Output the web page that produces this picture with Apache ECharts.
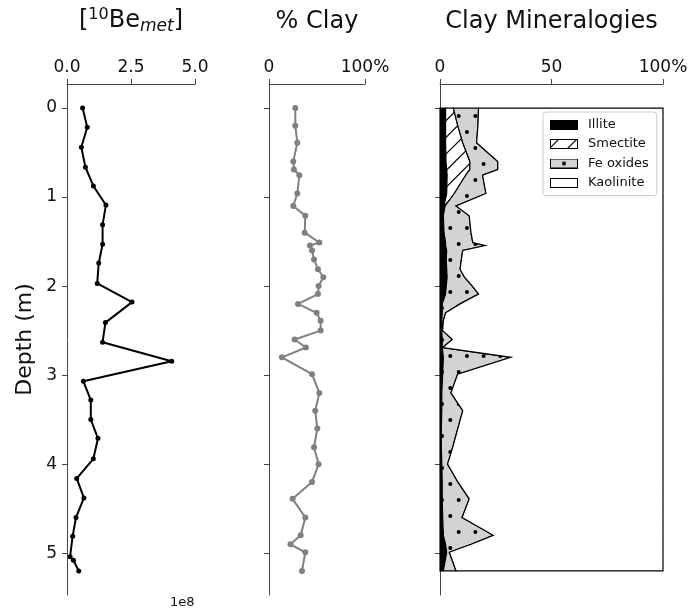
<!DOCTYPE html>
<html>
<head>
<meta charset="utf-8">
<script src="https://cdn.jsdelivr.net/npm/echarts@6/dist/echarts.min.js"></script>
<style>
  html, body { margin: 0; padding: 0; background: #fff; }
  #chart { width: 691px; height: 613px; }
</style>
</head>
<body>
<div id="chart"></div>
<script>
// Meteoric 10Be concentration profile (values in units of 1e8 atoms/g)
const beDepth = [0.00, 0.215, 0.44, 0.665, 0.875, 1.09, 1.31, 1.53, 1.74, 1.97, 2.18, 2.41, 2.63,
                 2.845, 3.07, 3.28, 3.50, 3.71, 3.94, 4.16, 4.38, 4.60, 4.81, 5.04, 5.08, 5.20];
const beConc = [0.61, 0.79, 0.56, 0.72, 1.03, 1.52, 1.39, 1.39, 1.24, 1.18, 2.54, 1.50, 1.39,
                4.09, 0.64, 0.93, 0.93, 1.21, 1.03, 0.38, 0.66, 0.35, 0.22, 0.12, 0.25, 0.46];

// Clay content (%) and the sampling depths shared with the mineralogy
const clayDepth = [0.00, 0.20, 0.39, 0.60, 0.69, 0.755, 0.96, 1.10, 1.21, 1.40, 1.51, 1.545, 1.60,
                   1.70, 1.81, 1.90, 2.00, 2.09, 2.20, 2.30, 2.39, 2.50, 2.60, 2.69, 2.80, 2.99,
                   3.20, 3.40, 3.60, 3.81, 4.00, 4.20, 4.39, 4.60, 4.80, 4.90, 4.99, 5.20];
const clayPct = [27.4, 27.4, 29.5, 25.3, 26.0, 31.6, 29.5, 25.3, 37.8, 37.2, 52.4, 42.7, 44.8,
                 46.9, 51.0, 56.6, 51.7, 51.0, 30.2, 49.6, 53.8, 53.8, 26.7, 38.4, 13.5, 44.8,
                 52.4, 48.2, 50.3, 46.9, 51.7, 44.8, 24.6, 37.8, 33.0, 22.4, 37.8, 34.4];

// Clay mineral fractions (%) at each clay sampling depth
const illite = [2.5, 2.5, 2.5, 2.7, 3.0, 3.2, 3.0, 1.8, 1.5, 1.8, 2.5, 2.5, 3.0,
                2.8, 3.0, 3.2, 2.8, 2.5, 1.0, 1.0, 0.8, 0.8, 1.0, 1.0, 1.5, 1.2,
                0.8, 0.8, 0.6, 0.6, 0.8, 1.0, 1.0, 1.2, 1.5, 2.5, 3.0, 1.5];
const smectite = [3.5, 5.5, 7.7, 10.7, 10.4, 8.3, 3.4, 0.5, 0, 0, 0, 0, 0,
                  0, 0, 0, 0, 0, 0, 0, 0, 0, 0, 0, 0, 0,
                  0, 0, 0, 0, 0, 0, 0, 0, 0, 0, 0, 0];
const feOxides = [11.3, 9.0, 6.2, 12.5, 12.5, 7.6, 14.2, 4.9, 11.6, 12.1, 12.2, 17.8, 7.2,
                  6.8, 6.0, 7.8, 11.7, 14.8, 8.0, 1.5, 0.7, 0.4, 4.5, 0.2, 30.3, 6.7,
                  4.1, 9.4, 7.4, 5.1, 2.6, 7.0, 12.1, 8.7, 22.4, 11.5, 1.2, 5.7];
const kaolinite = [82.7, 83.0, 83.6, 74.1, 74.1, 80.9, 79.4, 92.8, 86.9, 86.1, 85.3, 79.7, 89.8,
                   90.4, 91.0, 89.0, 85.5, 82.7, 91.0, 97.5, 98.5, 98.8, 94.5, 98.8, 68.2, 92.1,
                   95.1, 89.8, 92.0, 94.3, 96.6, 92.0, 86.9, 90.1, 76.1, 86.0, 95.8, 92.8];

// Axis ticks
const depthTicks = [0, 1, 2, 3, 4, 5];

const FONT = 'DejaVu Sans';
const TEXT = '#111';
const SPINE = '#444';
const FE_GREY = '#d3d3d3';

// ---- fill patterns -------------------------------------------------------
function makeHatchTile() {
  const c = document.createElement('canvas');
  c.width = 50; c.height = 50;
  const g = c.getContext('2d');
  g.fillStyle = '#fff';
  g.fillRect(0, 0, 50, 50);
  g.strokeStyle = '#000';
  g.lineWidth = 1.2;
  const step = 50 / 3;
  for (let k = -1; k <= 7; k++) {
    const s = k * step;
    g.beginPath();
    g.moveTo(s + 10, -10);
    g.lineTo(s - 60, 60);
    g.stroke();
  }
  return c;
}
function makeDotTile() {
  const c = document.createElement('canvas');
  c.width = 50; c.height = 32;
  const g = c.getContext('2d');
  g.fillStyle = FE_GREY;
  g.fillRect(0, 0, 50, 32);
  g.fillStyle = '#000';
  const step = 50 / 3;
  const dots = [];
  for (let k = -1; k <= 3; k++) {
    dots.push([8.7 + k * step, 20]);
    dots.push([0.3 + k * step, 4]);
  }
  dots.forEach(([x, y]) => { g.beginPath(); g.arc(x, y, 2.0, 0, Math.PI * 2); g.fill(); });
  return c;
}
const hatchFill = { image: makeHatchTile(), repeat: 'repeat' };
const dotFill = { image: makeDotTile(), repeat: 'repeat' };

// Legend swatches
function swatch(kind) {
  const c = document.createElement('canvas');
  c.width = 28; c.height = 10;
  const g = c.getContext('2d');
  if (kind === 'Illite') { g.fillStyle = '#000'; g.fillRect(0, 0, 28, 10); }
  else if (kind === 'Fe oxides') {
    g.fillStyle = FE_GREY; g.fillRect(0, 0, 28, 10);
    g.fillStyle = '#000'; g.beginPath(); g.arc(14, 5, 2.0, 0, Math.PI * 2); g.fill();
  } else {
    g.fillStyle = '#fff'; g.fillRect(0, 0, 28, 10);
    if (kind === 'Smectite') {
      g.strokeStyle = '#000'; g.lineWidth = 1.1;
      [9, 27].forEach(x => { g.beginPath(); g.moveTo(x, 0); g.lineTo(x - 10, 10); g.stroke(); });
    }
  }
  g.strokeStyle = '#000'; g.lineWidth = 1;
  g.strokeRect(0.5, 0.5, 27, 9);
  return 'image://' + c.toDataURL();
}

// ---- axes ------------------------------------------------------------------
function depthAxis(gridIndex, showLabels) {
  const ax = {
    type: 'value', gridIndex, inverse: true, min: -0.27, max: 5.47,
    axisLine: { show: true, onZero: false, lineStyle: { color: SPINE, width: 1 } },
    axisTick: { show: true, length: 5, customValues: depthTicks, lineStyle: { color: SPINE, width: 1 } },
    axisLabel: { show: showLabels, customValues: depthTicks, margin: 10, fontSize: 17,
                 fontFamily: FONT, color: TEXT },
    splitLine: { show: false }
  };
  if (showLabels) {
    Object.assign(ax, {
      name: 'Depth (m)', nameLocation: 'middle', nameGap: 31, nameRotate: 90,
      nameTextStyle: { fontSize: 22, fontFamily: FONT, color: TEXT }
    });
  }
  return ax;
}
function topAxis(gridIndex, max, interval, fmt) {
  return {
    type: 'value', gridIndex, position: 'top', min: 0, max, interval,
    axisLine: { show: true, onZero: false, lineStyle: { color: SPINE, width: 1 } },
    axisTick: { show: true, length: 5, lineStyle: { color: SPINE, width: 1 } },
    axisLabel: { margin: 8, fontSize: 17, fontFamily: FONT, color: TEXT, formatter: fmt },
    splitLine: { show: false }
  };
}
const pctFmt = v => (v === 100 ? '100%' : String(v));

// ---- stacked clay mineralogy ----------------------------------------------
const mineralLayers = [
  { name: 'Illite', values: illite, fill: '#000' },
  { name: 'Smectite', values: smectite, fill: hatchFill },
  { name: 'Fe oxides', values: feOxides, fill: dotFill },
  { name: 'Kaolinite', values: kaolinite, fill: '#fff' }
];
let base = clayDepth.map(() => 0);
const mineralSeries = mineralLayers.map(layer => {
  const lower = base.slice();
  const upper = lower.map((b, i) => b + layer.values[i]);
  base = upper;
  const rows = clayDepth.map((d, i) => [lower[i], upper[i], d]);
  return {
    type: 'custom', name: layer.name, xAxisIndex: 2, yAxisIndex: 2,
    data: rows, encode: { x: [0, 1], y: 2 }, silent: true,
    renderItem(params, api) {
      if (params.dataIndex !== 0) return null;
      const pts = rows.map(r => api.coord([r[0], r[2]]));
      for (let i = rows.length - 1; i >= 0; i--) pts.push(api.coord([rows[i][1], rows[i][2]]));
      return {
        type: 'polygon', shape: { points: pts },
        style: { fill: layer.fill, stroke: '#000', lineWidth: 1.2, lineJoin: 'miter' }
      };
    }
  };
});

const titleStyle = { fontSize: 24, fontWeight: 'normal', fontFamily: FONT, color: TEXT, lineHeight: 28 };

const option = {
  animation: false,
  backgroundColor: '#fff',
  title: [
    {
      text: '[{sup|10}Be{sub|met}]', left: 131, top: 7, textAlign: 'center', padding: 0,
      textStyle: Object.assign({}, titleStyle, {
        rich: {
          sup: { fontSize: 16, fontFamily: FONT, color: TEXT, verticalAlign: 'top', lineHeight: 20 },
          sub: { fontSize: 17, fontFamily: FONT, color: TEXT, fontStyle: 'italic',
                 verticalAlign: 'bottom', lineHeight: 22 }
        }
      })
    },
    { text: '% Clay', left: 317, top: 8, textAlign: 'center', padding: 0, textStyle: titleStyle },
    { text: 'Clay Mineralogies', left: 551.5, top: 8, textAlign: 'center', padding: 0, textStyle: titleStyle },
    { text: '1e8', left: 170, top: 596, padding: 0,
      textStyle: { fontSize: 13, fontWeight: 'normal', fontFamily: FONT, color: TEXT } }
  ],
  grid: [
    { left: 67, top: 84, width: 128, height: 511 },
    { left: 269, top: 84, width: 96, height: 511 },
    { left: 440, top: 84, width: 223, height: 511 }
  ],
  xAxis: [
    topAxis(0, 5, 2.5, v => v.toFixed(1)),
    topAxis(1, 100, 100, pctFmt),
    topAxis(2, 100, 50, pctFmt)
  ],
  yAxis: [depthAxis(0, true), depthAxis(1, false), depthAxis(2, false)],
  legend: {
    orient: 'vertical', left: 543, top: 112, padding: [5, 8, 5, 7],
    itemWidth: 28, itemHeight: 10, itemGap: 4.5, selectedMode: false,
    backgroundColor: 'rgba(255,255,255,0.85)', borderColor: '#cccccc', borderWidth: 1, borderRadius: 3,
    textStyle: { fontSize: 13, fontFamily: FONT, color: TEXT, lineHeight: 15, padding: [0, 0, 0, 5] },
    data: mineralLayers.map(l => ({ name: l.name, icon: swatch(l.name) }))
  },
  series: [
    {
      type: 'line', name: 'Be', xAxisIndex: 0, yAxisIndex: 0,
      data: beDepth.map((d, i) => [beConc[i], d]),
      lineStyle: { color: '#000', width: 2 }, itemStyle: { color: '#000' },
      symbol: 'circle', symbolSize: 5, showSymbol: true
    },
    {
      type: 'line', name: 'Clay', xAxisIndex: 1, yAxisIndex: 1,
      data: clayDepth.map((d, i) => [clayPct[i], d]),
      lineStyle: { color: '#808080', width: 2 }, itemStyle: { color: '#808080' },
      symbol: 'circle', symbolSize: 6, showSymbol: true
    }
  ].concat(mineralSeries)
};

const chart = echarts.init(document.getElementById('chart'), null, { renderer: 'canvas' });
chart.setOption(option);
</script>
</body>
</html>
